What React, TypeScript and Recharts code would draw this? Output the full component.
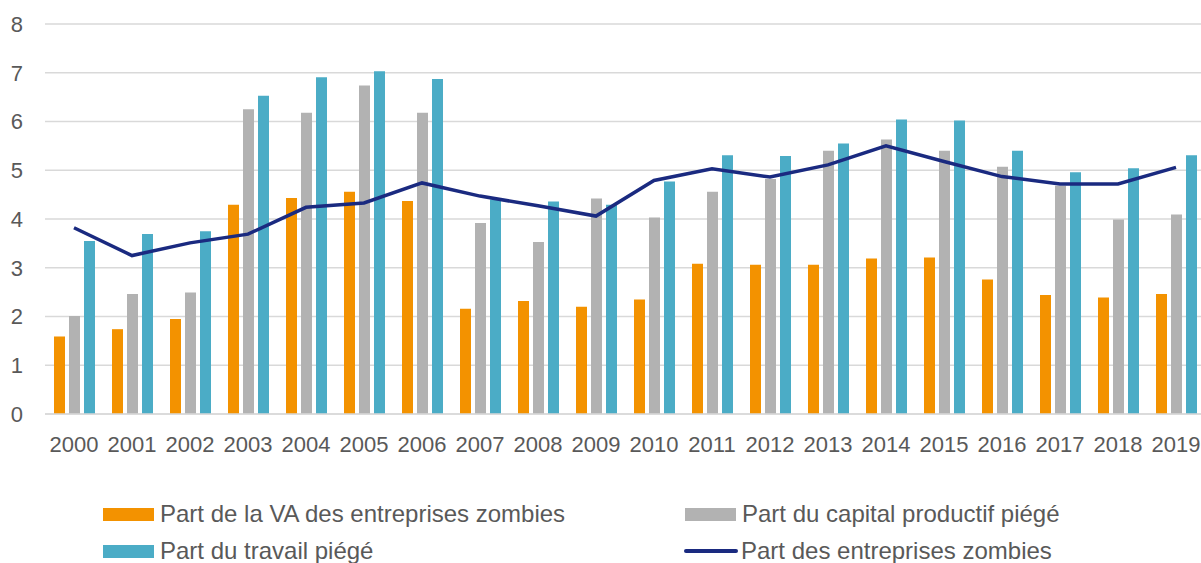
import React from 'react';
import { ComposedChart, Bar, Line, XAxis, YAxis, CartesianGrid, Legend } from 'recharts';

const years = ['2000','2001','2002','2003','2004','2005','2006','2007','2008','2009','2010','2011','2012','2013','2014','2015','2016','2017','2018','2019'];
const vaShare = [1.59,1.74,1.95,4.29,4.43,4.56,4.37,2.16,2.32,2.20,2.35,3.08,3.06,3.06,3.19,3.21,2.76,2.44,2.39,2.46];
const capitalShare = [2.01,2.46,2.49,6.25,6.18,6.74,6.18,3.92,3.53,4.42,4.03,4.56,4.82,5.40,5.63,5.40,5.07,4.68,3.99,4.09];
const laborShare = [3.55,3.69,3.75,6.53,6.91,7.03,6.87,4.40,4.36,4.29,4.77,5.31,5.29,5.55,6.04,6.02,5.40,4.96,5.04,5.31];
const zombieShare = [3.82,3.25,3.51,3.69,4.24,4.33,4.74,4.47,4.27,4.06,4.79,5.03,4.86,5.11,5.50,5.18,4.87,4.72,4.72,5.06];
const yTicks = [0,1,2,3,4,5,6,7,8];

const seriesNames = {
  va: 'Part de la VA des entreprises zombies',
  capital: 'Part du capital productif piégé',
  labor: 'Part du travail piégé',
  zombie: 'Part des entreprises zombies',
};

const COLORS = { va: '#f39200', capital: '#b2b2b2', labor: '#4bacc6', zombie: '#1a2a80' };
const TEXT = '#595959';
const FONT = '"Liberation Sans", Arial, sans-serif';

const data = years.map((y, i) => ({
  year: y,
  va: vaShare[i],
  capital: capitalShare[i],
  labor: laborShare[i],
  zombie: zombieShare[i],
}));

const legendItems = [
  { key: 'va', type: 'rect', left: 103 },
  { key: 'capital', type: 'rect', left: 685 },
  { key: 'labor', type: 'rect', left: 103 },
  { key: 'zombie', type: 'line', left: 684 },
];

const renderLegend = () => (
  <div style={{ position: 'relative', width: 1201, height: 68, fontFamily: FONT, fontSize: 24, color: TEXT }}>
    {legendItems.map((it, i) => {
      const top = i < 2 ? 0 : 37;
      const k = it.key as keyof typeof seriesNames;
      return (
        <div key={it.key} style={{ position: 'absolute', left: it.left, top, height: 30, display: 'flex', alignItems: 'center', whiteSpace: 'nowrap' }}>
          {it.type === 'rect' ? (
            <div style={{ width: 51, height: 13, background: COLORS[k] }} />
          ) : (
            <div style={{ width: 54, height: 3.5, background: COLORS[k], borderRadius: 2 }} />
          )}
          <span style={{ marginLeft: it.type === 'line' ? 3 : 6 }}>{seriesNames[k]}</span>
        </div>
      );
    })}
  </div>
);

export default function App() {
  return (
    <div style={{ position: 'absolute', left: 0, top: 0, width: 1201, height: 563, overflow: 'hidden', background: '#fff' }}>
      <ComposedChart
        width={1205}
        height={563}
        data={data}
        margin={{ top: 24, right: 0, left: 0, bottom: 41 }}
        barGap={4}
        barSize={11}
      >
        <CartesianGrid vertical={false} stroke="#d9d9d9" strokeWidth={1.5} />
        <XAxis
          dataKey="year"
          height={40}
          axisLine={{ stroke: '#d9d9d9', strokeWidth: 1.5 }}
          tickLine={false}
          tickSize={0}
          tickMargin={22}
          interval={0}
          tick={{ fill: TEXT, fontSize: 22, fontFamily: FONT }}
        />
        <YAxis
          width={45}
          domain={[0, 8]}
          ticks={yTicks}
          axisLine={false}
          tickLine={false}
          tickSize={0}
          tickMargin={22}
          tick={{ fill: TEXT, fontSize: 22, fontFamily: FONT }}
        />
        <Bar dataKey="va" name={seriesNames.va} fill={COLORS.va} isAnimationActive={false} />
        <Bar dataKey="capital" name={seriesNames.capital} fill={COLORS.capital} isAnimationActive={false} />
        <Bar dataKey="labor" name={seriesNames.labor} fill={COLORS.labor} isAnimationActive={false} />
        <Line
          dataKey="zombie"
          name={seriesNames.zombie}
          type="linear"
          stroke={COLORS.zombie}
          strokeWidth={3.5}
          dot={false}
          activeDot={false}
          isAnimationActive={false}
        />
        <Legend content={renderLegend} wrapperStyle={{ position: 'absolute', left: 0, top: 499, width: 1201, height: 68 }} />
      </ComposedChart>
    </div>
  );
}
